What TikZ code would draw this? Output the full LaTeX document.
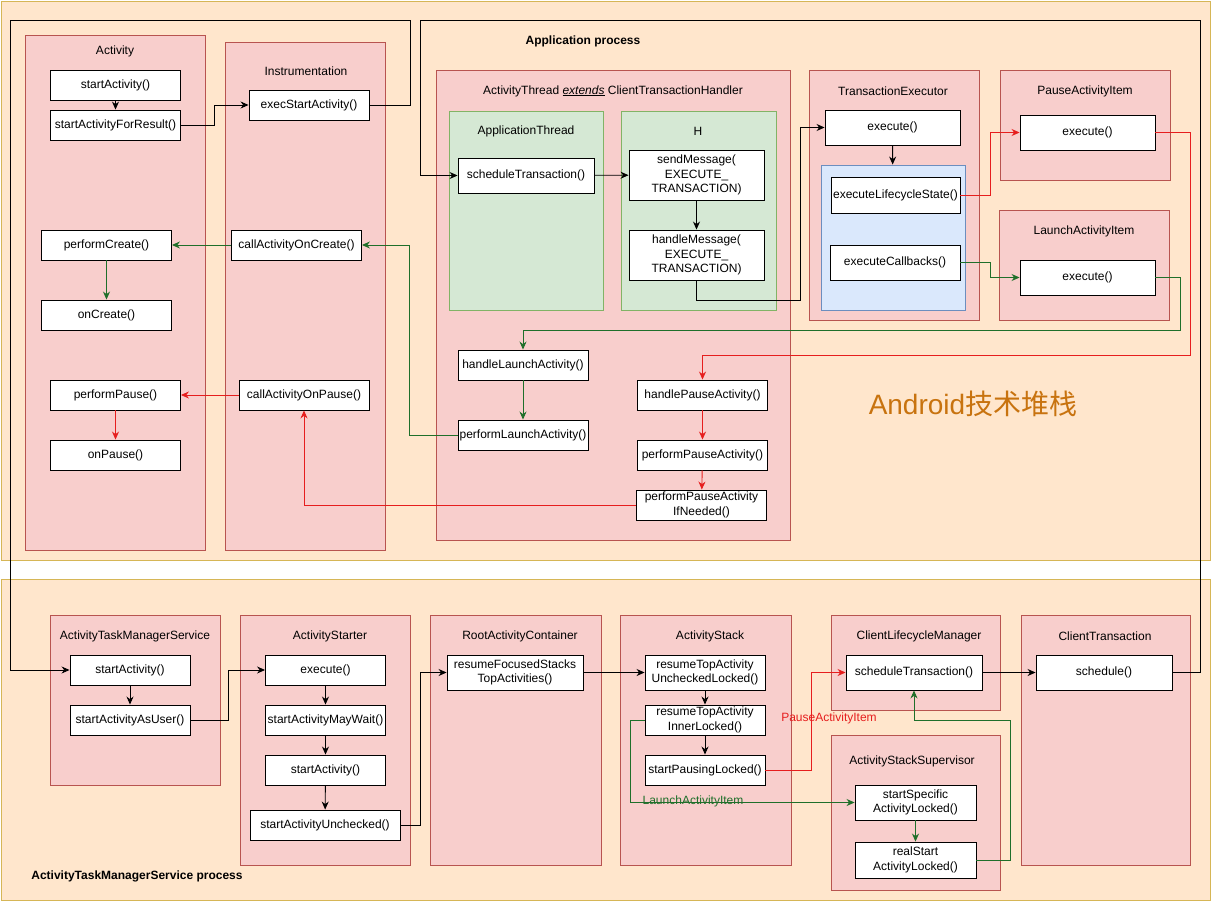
\documentclass[tikz,border=0pt]{standalone}
\usepackage{fontspec}
\setmainfont{Liberation Sans}
\newfontfamily\cjk{Noto Sans CJK SC}
\usetikzlibrary{arrows.meta}
\definecolor{procfill}{HTML}{FFE6CC}
\definecolor{procline}{HTML}{D6B656}
\definecolor{clsfill}{HTML}{F8CECC}
\definecolor{clsline}{HTML}{B85450}
\definecolor{grpfill}{HTML}{D5E8D4}
\definecolor{grpline}{HTML}{82B366}
\definecolor{blufill}{HTML}{DAE8FC}
\definecolor{bluline}{HTML}{6C8EBF}
\definecolor{pausered}{HTML}{E61E1E}
\definecolor{launchgreen}{HTML}{1F6F2A}
\definecolor{bigorange}{HTML}{C8730F}
\tikzset{
  proc/.style={draw=procline, fill=procfill},
  cls/.style={draw=clsline, fill=clsfill},
  grp/.style={draw=grpline, fill=grpfill},
  blu/.style={draw=bluline, fill=blufill},
  meth/.style={draw, fill=white, inner sep=1pt, align=center, minimum width=130, minimum height=30},
  ttl/.style={inner sep=0pt},
  arr/.style={-{Stealth[length=8pt, width=7pt]}},
  redarr/.style={arr, draw=pausered},
  grnarr/.style={arr, draw=launchgreen}
}
\begin{document}
\begin{tikzpicture}[x=1pt, y=-1pt, line width=0.9pt, font=\fontsize{12}{14.5}\selectfont]
  \useasboundingbox (0,0) rectangle (1211,902);
  \fill[white] (0,0) rectangle (1211,902);
  \draw[proc] (1,1) rectangle (1210,560);
  \draw[proc] (1,579) rectangle (1210,900);

  \draw[cls] (25,35) rectangle (205,550);
  \draw[cls] (225,42) rectangle (385,550);
  \draw[cls] (436,70) rectangle (790,540);
  \draw[grp] (449,111) rectangle (603,310);
  \draw[grp] (621,111) rectangle (776,310);
  \draw[cls] (809,70) rectangle (979,320);
  \draw[cls] (1000,70) rectangle (1170,180);
  \draw[cls] (999,210) rectangle (1169,320);
  \draw[cls] (50,615) rectangle (220,785);
  \draw[cls] (240,615) rectangle (410,865);
  \draw[cls] (430,615) rectangle (601,865);
  \draw[cls] (620,615) rectangle (791,865);
  \draw[cls] (831,615) rectangle (1000,710);
  \draw[cls] (831,735) rectangle (1000,890);
  \draw[cls] (1021,615) rectangle (1190,865);

  \node[ttl] (APPT) at (583,41) {\bfseries Application process};
  \node[ttl] (ATMST) at (137,876) {\bfseries ActivityTaskManagerService process};
  \node[ttl] (ACTT) at (115,51) {Activity};
  \node[ttl] (INST) at (306,71) {Instrumentation};
  \node[ttl] (ATT) at (613,91) {ActivityThread \underline{\textit{extends}} ClientTransactionHandler};
  \node[ttl] (APTT) at (526,131) {ApplicationThread};
  \node[ttl] (HT) at (698,131) {H};
  \node[ttl] (TET) at (893,91) {TransactionExecutor};
  \node[ttl] (PAIT) at (1085,91) {PauseActivityItem};
  \node[ttl] (LAIT) at (1084,231) {LaunchActivityItem};
  \node[ttl] (ATMSCT) at (135,636) {ActivityTaskManagerService};
  \node[ttl] (AST) at (330,636) {ActivityStarter};
  \node[ttl] (RACT) at (520,636) {RootActivityContainer};
  \node[ttl] (ASKT) at (710,636) {ActivityStack};
  \node[ttl] (CLMT) at (919,636) {ClientLifecycleManager};
  \node[ttl] (ASST) at (912,761) {ActivityStackSupervisor};
  \node[ttl] (CTT) at (1105,636) {ClientTransaction};
  \node[ttl, text=bigorange, font=\fontsize{28}{32}\selectfont] (BIG) at (973,404) {Android{\cjk 技术堆栈}};

  \node[blu, minimum width=144, minimum height=145] (BLU) at (893,237.5) {};

  \node[meth] (SA) at (115.5,85) {startActivity()};
  \node[meth] (SAFR) at (115.5,125) {startActivityForResult()};
  \node[meth, minimum width=120] (ESA) at (309,105) {execStartActivity()};
  \node[meth] (PC) at (106.5,245) {performCreate()};
  \node[meth] (OC) at (106.5,315) {onCreate()};
  \node[meth] (CAOC) at (296.5,245) {callActivityOnCreate()};
  \node[meth] (PP) at (115.5,395) {performPause()};
  \node[meth] (OP) at (115.5,455) {onPause()};
  \node[meth] (CAOP) at (304,395) {callActivityOnPause()};
  \node[meth, minimum width=136, minimum height=35] (ST) at (526,175.5) {scheduleTransaction()};
  \node[meth, minimum width=135, minimum height=50] (SM) at (696.5,175) {sendMessage(\\EXECUTE\_\\TRANSACTION)};
  \node[meth, minimum width=135, minimum height=50] (HM) at (696.5,255) {handleMessage(\\EXECUTE\_\\TRANSACTION)};
  \node[meth] (HLA) at (523,365) {handleLaunchActivity()};
  \node[meth] (PLA) at (523,435) {performLaunchActivity()};
  \node[meth] (HPA) at (702.5,395) {handlePauseActivity()};
  \node[meth] (PPA) at (702.5,455) {performPauseActivity()};
  \node[meth] (PPAIN) at (701.5,505) {performPauseActivity\\IfNeeded()};
  \node[meth, minimum width=135, minimum height=35] (TEX) at (892.5,127.5) {execute()};
  \node[meth, minimum width=129, minimum height=36] (ELS) at (895.5,195) {executeLifecycleState()};
  \node[meth, minimum width=130, minimum height=35] (ECB) at (895,262.5) {executeCallbacks()};
  \node[meth, minimum width=135, minimum height=35] (PEX) at (1087.5,132.5) {execute()};
  \node[meth, minimum width=135, minimum height=35] (LEX) at (1087.5,277.5) {execute()};

  \node[meth, minimum width=120] (ASA) at (130,670) {startActivity()};
  \node[meth, minimum width=120] (SAAU) at (130,720) {startActivityAsUser()};
  \node[meth, minimum width=120] (EX) at (325.5,670) {execute()};
  \node[meth, minimum width=120] (SAMW) at (325.5,720) {startActivityMayWait()};
  \node[meth, minimum width=120] (SAS) at (325.5,770) {startActivity()};
  \node[meth, minimum width=150] (SAU) at (325,825) {startActivityUnchecked()};
  \node[meth, minimum width=136, minimum height=35] (RFS) at (515,672.5) {resumeFocusedStacks\\TopActivities()};
  \node[meth, minimum width=120, minimum height=35] (RTU) at (705,672.5) {resumeTopActivity\\UncheckedLocked()};
  \node[meth, minimum width=120] (RTI) at (705,720) {resumeTopActivity\\InnerLocked()};
  \node[meth, minimum width=120] (SPL) at (705,770) {startPausingLocked()};
  \node[meth, minimum width=136, minimum height=35] (CST) at (914,672.5) {scheduleTransaction()};
  \node[meth, minimum width=136, minimum height=35] (SCH) at (1104,672.5) {schedule()};
  \node[meth, minimum width=121, minimum height=35] (SSA) at (915.5,802.5) {startSpecific\\ActivityLocked()};
  \node[meth, minimum width=121, minimum height=36] (RSA) at (915.5,860) {realStart\\ActivityLocked()};

  \draw[arr] (SA) -- (SAFR);
  \draw[arr] (SAFR.east) -- ++(33,0) |- (ESA.west);
  \draw[arr] (ESA.east) -| (410.5,20.5) -| (10.5,670) -- (ASA.west);
  \draw[arr] (ASA) -- (SAAU);
  \draw[arr] (SAAU.east) -- ++(38,0) |- (EX.west);
  \draw[arr] (EX) -- (SAMW);
  \draw[arr] (SAMW) -- (SAS);
  \draw[arr] (SAS) -- (SAU);
  \draw[arr] (SAU.east) -- ++(20,0) |- (RFS.west);
  \draw[arr] (RFS) -- (RTU);
  \draw[arr] (RTU) -- (RTI);
  \draw[arr] (RTI) -- (SPL);
  \draw[arr] (CST) -- (SCH);
  \draw[arr] (SCH.east) -| (1200.5,20.5) -| (420.5,175.5) -- (ST.west);
  \draw[arr] (ST) -- (SM);
  \draw[arr] (SM) -- (HM);
  \draw[arr] (HM.south) |- (800.5,300) |- (TEX.west);
  \draw[arr] (TEX) -- (BLU);

  \draw[redarr] (SPL.east) -- ++(46,0) |- (CST.west);
  \node[ttl, text=pausered] (PAIL) at (829,718) {PauseActivityItem};
  \draw[redarr] (ELS.east) -- ++(30,0) |- (PEX.west);
  \draw[redarr] (PEX.east) -| (1190.5,355.5) -| (HPA.north);
  \draw[redarr] (HPA) -- (PPA);
  \draw[redarr] (PPA) -- (PPAIN);
  \draw[redarr] (PPAIN.west) -| (CAOP.south);
  \draw[redarr] (CAOP) -- (PP);
  \draw[redarr] (PP) -- (OP);

  \draw[grnarr] (ECB.east) -- ++(30,0) |- (LEX.west);
  \draw[grnarr] (LEX.east) -| (1180.5,330.5) -| (HLA.north);
  \draw[grnarr] (HLA) -- (PLA);
  \draw[grnarr] (PLA.west) -- ++(-48,0) |- (CAOC.east);
  \draw[grnarr] (CAOC) -- (PC);
  \draw[grnarr] (PC) -- (OC);
  \draw[grnarr] (RTI.west) -- ++(-14,0) |- (SSA.west);
  \node[ttl, text=launchgreen] (LAIL) at (693,801) {LaunchActivityItem};
  \draw[grnarr] (SSA) -- (RSA);
  \draw[grnarr] (RSA.east) -| (1010.5,720.5) -| (CST.south);
\end{tikzpicture}
\end{document}
